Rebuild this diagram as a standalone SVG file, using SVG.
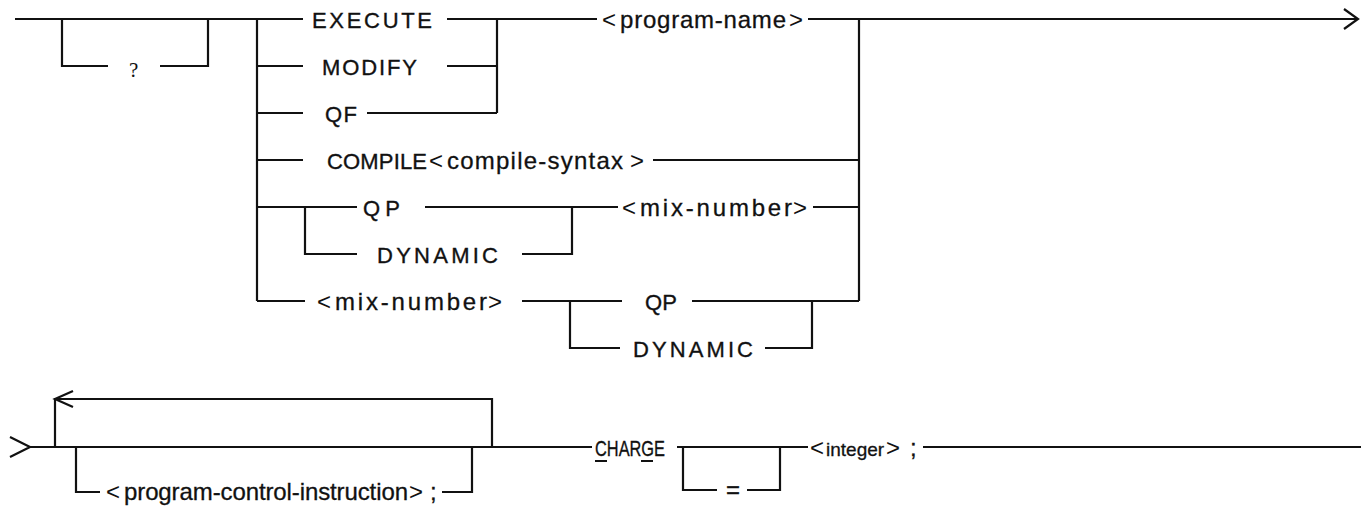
<svg xmlns="http://www.w3.org/2000/svg" width="1361" height="507" viewBox="0 0 1361 507">
  <style>
    .ln { fill: none; stroke: #111; stroke-width: 2.2; stroke-linecap: butt; stroke-linejoin: miter; }
    .kw { font-family: "Liberation Sans", Arial, sans-serif; font-size: 22px; fill: #111; stroke: #111; stroke-width: 0.35; }
    .vr { font-family: "Liberation Sans", Arial, sans-serif; font-size: 24px; fill: #111; stroke: #111; stroke-width: 0.3; }
    .br { font-family: "Liberation Sans", Arial, sans-serif; font-size: 24px; fill: #111; }
    .sf { font-family: "Liberation Serif", "Times New Roman", serif; font-size: 21px; fill: #111; }
    .sm { font-family: "Liberation Sans", Arial, sans-serif; font-size: 19px; fill: #111; stroke: #111; stroke-width: 0.3; }
  </style>
  <rect width="1361" height="507" fill="#ffffff"/>

  <!-- connectors: rails, branches, loops and arrowheads -->
  <g id="connectors" class="ln">
    <!-- upper statement -->
    <path d="M15,19 H303"/>
    <path d="M62,19 V66 H108 M160,66 H208 V19"/>
    <path d="M257,19 V301"/>
    <path d="M447,19 H597"/>
    <path d="M257,66 H303 M447,66 H497"/>
    <path d="M257,113 H303 M367,113 H497"/>
    <path d="M497,19 V113"/>
    <path d="M808,19 H1358"/>
    <path d="M1344,9 L1358,19 L1344,29"/>
    <path d="M859,19 V301"/>
    <path d="M257,160 H303 M653,160 H859"/>
    <path d="M257,207 H357 M425,207 H618 M813,207 H859"/>
    <path d="M305,207 V254 H357 M522,254 H572 V207"/>
    <path d="M257,301 H305 M522,301 H622 M692,301 H859"/>
    <path d="M570,301 V348 H620 M765,348 H812 V301"/>
    <!-- continuation line -->
    <path d="M10,437 L30,447 L10,457"/>
    <path d="M30,447 H592"/>
    <path d="M55,447 V399 H492 V447"/>
    <path d="M73,391 L55,399 L73,407"/>
    <path d="M76,447 V492 H100 M442,492 H472 V447"/>
    <path d="M677,447 H808"/>
    <path d="M683,447 V490 H717 M747,490 H780 V447"/>
    <path d="M923,447 H1361"/>
  </g>

  <g id="opt-query"><text class="sf" x="129" y="77">?</text></g>
  <g id="execute"><text class="kw" x="312" y="28" textLength="120">EXECUTE</text></g>
  <g id="modify"><text class="kw" x="322" y="75" textLength="95">MODIFY</text></g>
  <g id="qf"><text class="kw" x="325" y="122" textLength="32">QF</text></g>
  <g id="program-name">
    <text class="br" x="602" y="28">&lt;</text>
    <text class="vr" x="620" y="28" textLength="166">program-name</text>
    <text class="br" x="789" y="28">&gt;</text>
  </g>
  <g id="compile">
    <text class="kw" x="327" y="169" textLength="100">COMPILE</text>
    <text class="br" x="429" y="169">&lt;</text>
    <text class="vr" x="447" y="169" textLength="176">compile-syntax</text>
    <text class="br" x="630" y="169">&gt;</text>
  </g>
  <g id="qp-1"><text class="kw" x="363" y="216" textLength="37">QP</text></g>
  <g id="dynamic-1"><text class="kw" x="377" y="263" textLength="121">DYNAMIC</text></g>
  <g id="mix-number-1">
    <text class="br" x="622" y="216">&lt;</text>
    <text class="vr" x="640" y="216" textLength="152">mix-number</text>
    <text class="br" x="793" y="216">&gt;</text>
  </g>
  <g id="mix-number-2">
    <text class="br" x="317" y="310">&lt;</text>
    <text class="vr" x="335" y="310" textLength="152">mix-number</text>
    <text class="br" x="488" y="310">&gt;</text>
  </g>
  <g id="qp-2"><text class="kw" x="645" y="310" textLength="32">QP</text></g>
  <g id="dynamic-2"><text class="kw" x="633" y="357" textLength="120">DYNAMIC</text></g>

  <g id="program-control-instruction">
    <text class="br" x="106" y="500">&lt;</text>
    <text class="vr" x="124" y="500" textLength="284">program-control-instruction</text>
    <text class="br" x="409" y="500">&gt;</text>
    <text class="vr" x="430" y="500">;</text>
  </g>
  <g id="charge">
    <text class="kw" x="595" y="456" textLength="70" lengthAdjust="spacingAndGlyphs">CHARGE</text>
    <path class="ln" d="M595,461 H607 M641,461 H653" stroke-width="1.6"/>
  </g>
  <g id="equals"><text class="vr" x="726" y="498">=</text></g>
  <g id="integer">
    <text class="br" x="810" y="456">&lt;</text>
    <text class="sm" x="826" y="456">integer</text>
    <text class="br" x="886" y="456">&gt;</text>
    <text class="vr" x="910" y="456">;</text>
  </g>
</svg>
